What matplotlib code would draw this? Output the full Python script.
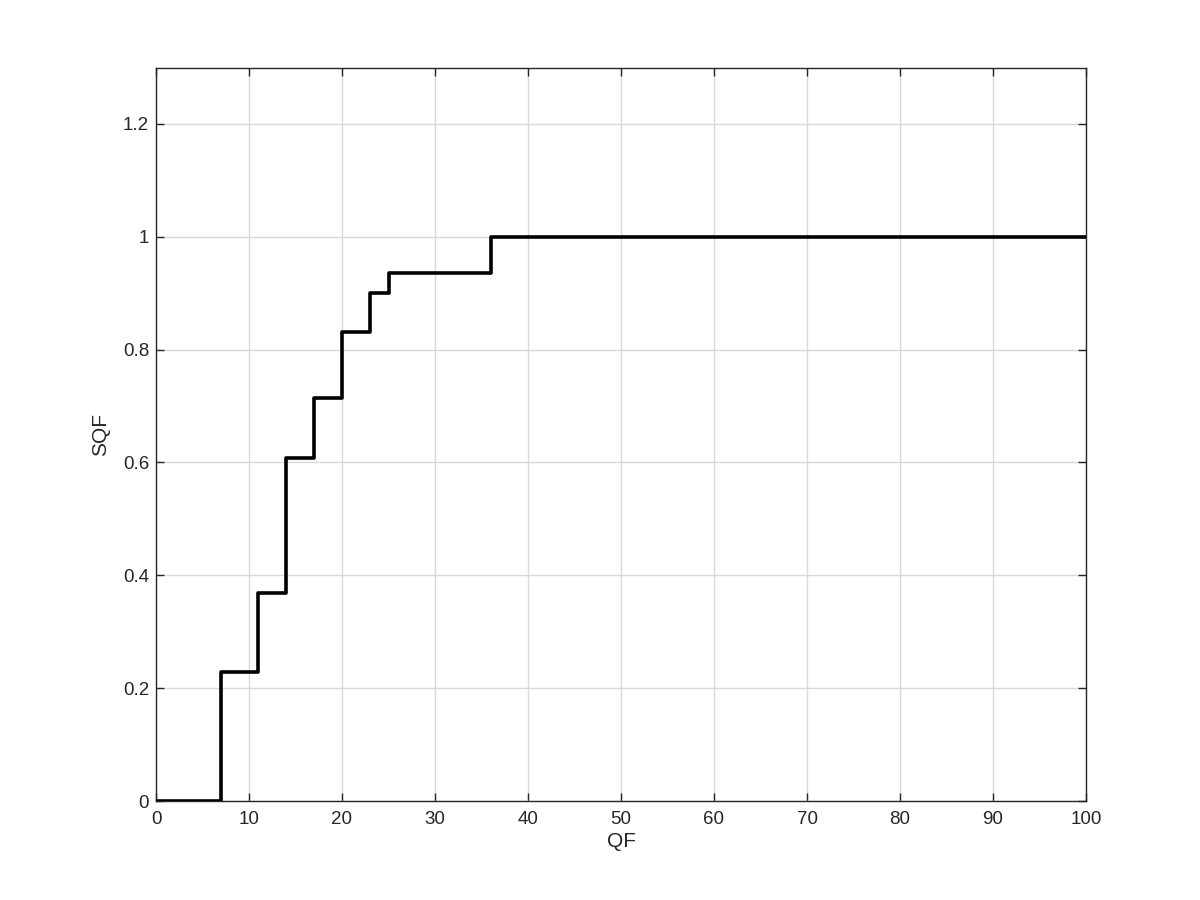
import matplotlib.pyplot as plt
import numpy as np

plt.rcParams['font.family'] = ['Liberation Sans', 'DejaVu Sans']

qf = [0, 7, 11, 14, 17, 20, 23, 25, 36, 100]
sqf = [0, 0.229, 0.369, 0.608, 0.715, 0.832, 0.901, 0.936, 1.0, 1.0]

fig = plt.figure(figsize=(12, 9), dpi=100)
ax = fig.add_axes([0.13, 0.11, 0.775, 0.815])

ax.step(qf, sqf, where='post', color='black', linewidth=2.6, zorder=3)

ax.set_xlim(0, 100)
ax.set_ylim(0, 1.3)
ax.set_xticks(np.arange(0, 101, 10))
ax.set_yticks([0, 0.2, 0.4, 0.6, 0.8, 1, 1.2])
ax.set_yticklabels(['0', '0.2', '0.4', '0.6', '0.8', '1', '1.2'])
ax.grid(True, color='#d9d9d9', linewidth=1.0)
ax.set_axisbelow(True)

dark = '#262626'
for s in ax.spines.values():
    s.set_color(dark)
    s.set_linewidth(1.0)
ax.tick_params(direction='in', top=True, right=True, length=6, width=1.0,
               colors=dark, labelsize=13.5)
ax.tick_params(axis='x', pad=7)
ax.tick_params(axis='y', pad=5)
ax.set_xlabel('QF', fontsize=15, color=dark, labelpad=3)
ax.set_ylabel('SQF', fontsize=15, color=dark, labelpad=9)

plt.savefig('out.png', dpi=100)
